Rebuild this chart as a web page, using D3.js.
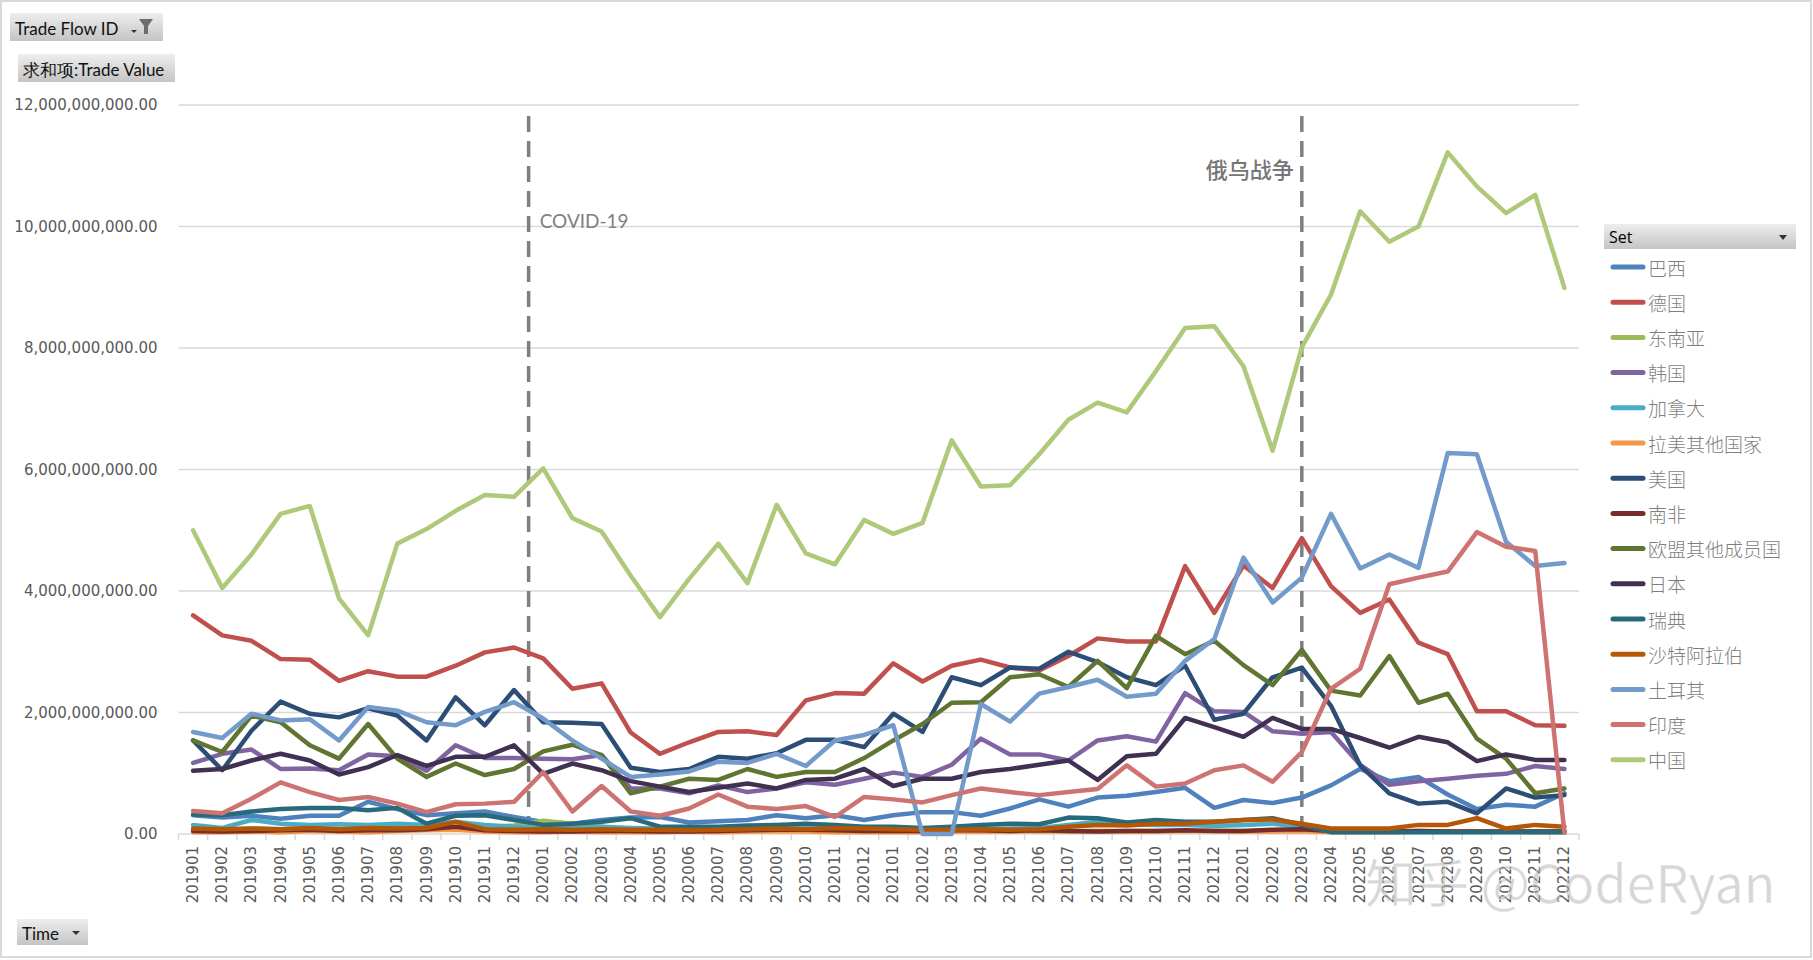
<!DOCTYPE html>
<html>
<head>
<meta charset="utf-8">
<script src="https://cdn.jsdelivr.net/npm/d3@7"></script>
<style>
  body { margin: 0; background: #fff; }
  svg { display: block; }
</style>
</head>
<body>
<svg id="mysvg" width="1813" height="960"></svg>
<script>
// Months 2019-01 .. 2022-12
const months = [];
[2019, 2020, 2021, 2022].forEach(y => {
  for (let m = 1; m <= 12; m++) months.push(`${y}${String(m).padStart(2, '0')}`);
});

const yTicks = [0, 2e9, 4e9, 6e9, 8e9, 10e9, 12e9];

// values in billions
const brazil = [0.31,0.27,0.30,0.25,0.30,0.30,0.53,0.41,0.31,0.34,0.37,0.28, 0.20,0.17,0.23,0.27,0.28,0.19,0.21,0.23,0.31,0.26,0.31,0.23, 0.31,0.36,0.36,0.30,0.42,0.57,0.45,0.60,0.63,0.69,0.76,0.43, 0.56,0.51,0.60,0.80,1.07,0.87,0.94,0.65,0.41,0.48,0.45,0.67];
const germany = [3.60,3.27,3.18,2.88,2.87,2.52,2.68,2.59,2.59,2.77,2.99,3.07, 2.89,2.39,2.48,1.67,1.32,1.51,1.68,1.69,1.63,2.20,2.32,2.31, 2.81,2.51,2.77,2.87,2.74,2.69,2.93,3.22,3.17,3.17,4.41,3.64, 4.42,4.05,4.87,4.08,3.64,3.86,3.15,2.96,2.02,2.02,1.79,1.78];
const seAsia = [0.08,0.07,0.09,0.08,0.09,0.08,0.09,0.10,0.10,0.11,0.12,0.14, 0.22,0.17,0.12,0.06,0.05,0.05,0.05,0.05,0.05,0.05,0.05,0.05, 0.05,0.05,0.05,0.05,0.05,0.05,0.05,0.05,0.05,0.05,0.05,0.05, 0.05,0.05,0.05,0.04,0.04,0.04,0.04,0.04,0.04,0.04,0.04,0.04];
const korea = [1.17,1.32,1.39,1.07,1.08,1.05,1.31,1.28,1.04,1.46,1.25,1.25, 1.24,1.23,1.30,0.75,0.75,0.67,0.80,0.69,0.75,0.85,0.81,0.91, 1.01,0.94,1.14,1.57,1.31,1.31,1.21,1.54,1.61,1.52,2.32,2.02, 2.01,1.69,1.65,1.68,1.14,0.81,0.87,0.91,0.96,0.99,1.12,1.07];
const canada = [0.15,0.10,0.23,0.17,0.15,0.16,0.15,0.17,0.15,0.20,0.15,0.12, 0.10,0.10,0.12,0.10,0.09,0.09,0.10,0.10,0.09,0.09,0.09,0.09, 0.09,0.09,0.09,0.08,0.09,0.10,0.15,0.20,0.16,0.15,0.15,0.13, 0.15,0.17,0.12,0.05,0.04,0.04,0.05,0.04,0.04,0.04,0.04,0.04];
const latam = [0.03,0.03,0.04,0.03,0.05,0.04,0.03,0.05,0.06,0.07,0.04,0.03, 0.03,0.04,0.03,0.03,0.03,0.04,0.03,0.04,0.05,0.04,0.03,0.03, 0.03,0.03,0.04,0.04,0.04,0.05,0.04,0.05,0.04,0.04,0.05,0.05, 0.04,0.04,0.05,0.03,0.03,0.03,0.04,0.04,0.04,0.04,0.03,0.03];
const usa = [1.54,1.05,1.70,2.18,1.98,1.92,2.07,1.95,1.54,2.25,1.79,2.37, 1.84,1.83,1.81,1.09,1.02,1.07,1.27,1.24,1.33,1.55,1.55,1.43, 1.98,1.68,2.58,2.45,2.74,2.72,3.00,2.83,2.58,2.45,2.77,1.88, 1.98,2.58,2.74,2.11,1.13,0.67,0.50,0.53,0.34,0.75,0.60,0.64];
const southAfrica = [0.05,0.04,0.05,0.06,0.07,0.05,0.06,0.06,0.08,0.12,0.06,0.05, 0.04,0.04,0.05,0.05,0.04,0.04,0.05,0.06,0.07,0.07,0.06,0.05, 0.05,0.05,0.06,0.06,0.05,0.06,0.05,0.04,0.05,0.05,0.06,0.05, 0.05,0.07,0.08,0.05,0.04,0.04,0.05,0.04,0.04,0.04,0.04,0.04];
const euOther = [1.54,1.35,1.95,1.84,1.46,1.24,1.81,1.24,0.94,1.16,0.97,1.07, 1.36,1.47,1.30,0.67,0.78,0.91,0.89,1.07,0.94,1.02,1.02,1.25, 1.54,1.81,2.16,2.17,2.58,2.63,2.42,2.85,2.40,3.26,2.96,3.18, 2.78,2.45,3.03,2.36,2.28,2.93,2.16,2.31,1.57,1.24,0.67,0.75];
const japan = [1.04,1.07,1.21,1.32,1.21,0.98,1.10,1.30,1.12,1.27,1.27,1.46, 0.99,1.16,1.05,0.87,0.78,0.69,0.76,0.83,0.75,0.89,0.91,1.07, 0.79,0.91,0.91,1.02,1.07,1.14,1.21,0.89,1.28,1.32,1.91,1.76, 1.60,1.91,1.73,1.73,1.58,1.42,1.60,1.51,1.20,1.31,1.22,1.22];
const sweden = [0.32,0.31,0.37,0.41,0.43,0.43,0.39,0.43,0.17,0.30,0.31,0.23, 0.15,0.17,0.20,0.26,0.12,0.12,0.12,0.14,0.15,0.17,0.15,0.12, 0.12,0.10,0.12,0.15,0.17,0.16,0.27,0.26,0.19,0.23,0.20,0.20, 0.23,0.26,0.15,0.03,0.03,0.03,0.03,0.03,0.03,0.03,0.03,0.03];
const saudi = [0.09,0.08,0.09,0.08,0.10,0.08,0.10,0.09,0.10,0.20,0.08,0.07, 0.08,0.07,0.08,0.07,0.07,0.06,0.07,0.08,0.09,0.08,0.10,0.09, 0.08,0.07,0.07,0.08,0.07,0.08,0.12,0.15,0.14,0.17,0.17,0.20, 0.23,0.24,0.17,0.09,0.09,0.09,0.15,0.15,0.26,0.09,0.15,0.12];
const turkey = [1.68,1.58,1.98,1.87,1.89,1.54,2.09,2.03,1.84,1.79,2.01,2.17, 1.90,1.54,1.24,0.94,0.98,1.03,1.19,1.17,1.32,1.12,1.54,1.63, 1.79,0.00,0.00,2.14,1.85,2.31,2.42,2.54,2.26,2.31,2.85,3.21, 4.55,3.81,4.22,5.27,4.37,4.60,4.38,6.27,6.25,4.81,4.41,4.46];
const india = [0.38,0.34,0.58,0.85,0.69,0.56,0.61,0.50,0.36,0.49,0.50,0.53, 1.02,0.37,0.79,0.37,0.30,0.42,0.65,0.45,0.41,0.46,0.28,0.61, 0.57,0.52,0.64,0.75,0.69,0.64,0.69,0.74,1.13,0.78,0.83,1.05, 1.13,0.86,1.35,2.39,2.72,4.11,4.22,4.32,4.97,4.73,4.66,0.02];
const china = [5.00,4.05,4.60,5.27,5.40,3.88,3.27,4.78,5.02,5.32,5.58,5.55, 6.02,5.20,4.98,4.25,3.57,4.20,4.78,4.13,5.42,4.62,4.44,5.17, 4.94,5.12,6.48,5.72,5.74,6.25,6.82,7.10,6.94,7.62,8.33,8.36, 7.70,6.31,8.01,8.88,10.25,9.75,10.00,11.22,10.66,10.22,10.52,8.99];

const seriesNames = ['巴西', '德国', '东南亚', '韩国', '加拿大', '拉美其他国家', '美国', '南非', '欧盟其他成员国', '日本', '瑞典', '沙特阿拉伯', '土耳其', '印度', '中国'];
const seriesValues = [brazil, germany, seAsia, korea, canada, latam, usa, southAfrica, euOther, japan, sweden, saudi, turkey, india, china];
const seriesColors = ['#4F81BD', '#C0504D', '#9BBB59', '#8064A2', '#4BACC6', '#F79646', '#2C4D75', '#772C2A', '#5F7530', '#403152', '#276A7C', '#B65708', '#729ACA', '#CD7371', '#AFC97A'];

const events = [
  { label: 'COVID-19', month: '202001', at: 'start' },
  { label: '俄乌战争', month: '202203', at: 'center' }
];

const series = seriesNames.map((name, i) => ({
  name,
  color: seriesColors[i],
  values: seriesValues[i].map((v, j) => ({ month: months[j], value: v * 1e9 }))
}));

const svg = d3.select('#mysvg');
const plot = { left: 178.5, right: 1579, top: 105, bottom: 834 };

// gradient for the pivot buttons
const defs = svg.append('defs');
const grad = defs.append('linearGradient').attr('id', 'btn').attr('x1', 0).attr('y1', 0).attr('x2', 0).attr('y2', 1);
grad.append('stop').attr('offset', '0%').attr('stop-color', '#eeeeee');
grad.append('stop').attr('offset', '100%').attr('stop-color', '#c4c4c4');

// outer frame
svg.append('rect')
  .attr('x', 1).attr('y', 1).attr('width', 1810).attr('height', 956)
  .attr('fill', '#fff').attr('stroke', '#d9d9d9').attr('stroke-width', 2);

// scales
const xScale = d3.scaleBand().domain(months).range([plot.left, plot.right]).padding(0);
const xc = m => xScale(m) + xScale.bandwidth() / 2;
const yScale = d3.scaleLinear().domain([0, 12e9]).range([plot.bottom, plot.top]);

// grid lines
svg.append('g')
  .selectAll('line')
  .data(yTicks.slice(1))
  .join('line')
  .attr('x1', plot.left).attr('x2', plot.right)
  .attr('y1', d => yScale(d)).attr('y2', d => yScale(d))
  .attr('stroke', '#d9d9d9').attr('stroke-width', 1.5);

// y axis labels
const yAxis = svg.append('g')
  .attr('transform', `translate(${plot.left}, 0)`)
  .call(d3.axisLeft(yScale).tickValues(yTicks).tickFormat(d3.format(',.2f')).tickSize(0).tickPadding(21));
yAxis.select('.domain').remove();
yAxis.selectAll('text')
  .attr('fill', '#595959')
  .style('font', '15px "DejaVu Sans"');

// x axis
const xAxis = svg.append('g')
  .attr('transform', `translate(0, ${plot.bottom})`)
  .call(d3.axisBottom(xScale).tickSize(0).tickPadding(0));
xAxis.select('.domain').attr('stroke', '#d9d9d9').attr('stroke-width', 1.5)
  .attr('d', `M${plot.left},0H${plot.right}`);
xAxis.selectAll('text')
  .attr('fill', '#595959')
  .style('font', '15px "DejaVu Sans"')
  .attr('text-anchor', 'end')
  .attr('dominant-baseline', 'central')
  .attr('transform', 'translate(0, 12) rotate(-90)')
  .attr('y', 0).attr('dy', null);
// tick marks on category boundaries
xAxis.append('g')
  .selectAll('line')
  .data(months.concat(['end']))
  .join('line')
  .attr('x1', d => d === 'end' ? plot.right : xScale(d))
  .attr('x2', d => d === 'end' ? plot.right : xScale(d))
  .attr('y1', 0).attr('y2', 6)
  .attr('stroke', '#d9d9d9').attr('stroke-width', 1.5);

// event markers
const evX = d => d.at === 'start' ? xScale(d.month) : xc(d.month);
svg.append('g')
  .selectAll('line')
  .data(events)
  .join('line')
  .attr('x1', evX).attr('x2', evX)
  .attr('y1', 116).attr('y2', plot.bottom)
  .attr('stroke', '#7f7f7f').attr('stroke-width', 3.5)
  .attr('stroke-dasharray', '16,9');

svg.append('text')
  .attr('x', evX(events[0]) + 11).attr('y', 220)
  .attr('dominant-baseline', 'central')
  .attr('fill', '#808080')
  .style('font', '19px Lato')
  .text(events[0].label);

svg.append('text')
  .attr('x', evX(events[1]) - 8).attr('y', 168)
  .attr('dominant-baseline', 'central')
  .attr('text-anchor', 'end')
  .attr('fill', '#767676')
  .style('font', '500 22px "Noto Sans CJK SC"')
  .text(events[1].label);

// lines
const lineGen = d3.line()
  .x(d => xc(d.month))
  .y(d => yScale(d.value));

svg.append('g')
  .selectAll('path')
  .data(series)
  .join('path')
  .attr('d', d => lineGen(d.values))
  .attr('fill', 'none')
  .attr('stroke', d => d.color)
  .attr('stroke-width', 4.5)
  .attr('stroke-linejoin', 'round')
  .attr('stroke-linecap', 'round');

// legend
const legendG = svg.append('g');
legendG.append('rect')
  .attr('x', 1604).attr('y', 224).attr('width', 192).attr('height', 25)
  .attr('fill', 'url(#btn)');
legendG.append('text')
  .attr('x', 1609).attr('y', 237)
  .attr('dominant-baseline', 'central')
  .attr('fill', '#000')
  .style('font', '16px "Open Sans"')
  .text('Set');
legendG.append('path')
  .attr('d', 'M1779,235 L1787,235 L1783,240 Z')
  .attr('fill', '#333');

const legend = legendG.selectAll('.legend')
  .data(series)
  .join('g')
  .attr('class', 'legend')
  .attr('transform', (d, i) => `translate(1611, ${267 + i * 35.2})`);
legend.append('line')
  .attr('x1', 2).attr('x2', 32)
  .attr('stroke', d => d.color)
  .attr('stroke-width', 5)
  .attr('stroke-linecap', 'round');
legend.append('text')
  .attr('x', 37).attr('y', 0)
  .attr('dominant-baseline', 'central')
  .attr('fill', '#7f7f7f')
  .style('font', '300 19px "Noto Sans CJK SC"')
  .text(d => d.name);

// pivot field buttons
function button(x, y, w, h, label, tx) {
  const g = svg.append('g');
  g.append('rect').attr('x', x).attr('y', y).attr('width', w).attr('height', h).attr('fill', 'url(#btn)');
  g.append('text')
    .attr('x', tx).attr('y', y + h / 2 + 1)
    .attr('dominant-baseline', 'central')
    .attr('fill', '#111')
    .style('font', '17px Lato')
    .text(label);
  return g;
}
const b1 = button(10, 13, 153, 28, 'Trade Flow ID', 15);
b1.append('path').attr('d', 'M131,30 L137,30 L134,33 Z').attr('fill', '#333');
b1.append('path').attr('d', 'M139,19 L153,19 L148,26 L148,34 L144,34 L144,26 Z').attr('fill', '#6d6d6d');
button(18, 54, 157, 28, '求和项:Trade Value', 23);
const b3 = button(17, 919, 71, 26, 'Time', 22);
b3.append('path').attr('d', 'M72,931 L80,931 L76,935 Z').attr('fill', '#333');

// watermark
svg.append('text')
  .attr('x', 1365).attr('y', 880)
  .attr('dominant-baseline', 'central')
  .attr('fill', 'rgba(175,175,175,0.5)')
  .attr('stroke', 'rgba(255,255,255,0.5)')
  .attr('stroke-width', 1)
  .style('font', '52px "Noto Sans CJK SC"')
  .text('知乎 @CodeRyan');
</script>
</body>
</html>
